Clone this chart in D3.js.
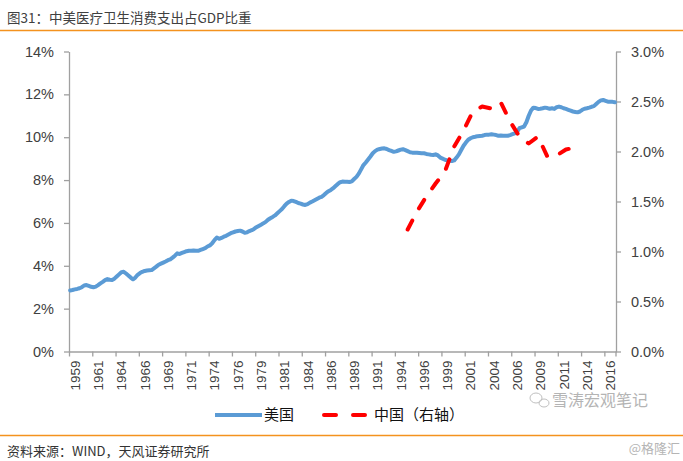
<!DOCTYPE html>
<html><head><meta charset="utf-8">
<script src="https://cdn.jsdelivr.net/npm/d3@7/dist/d3.min.js"></script>
<style>
body{margin:0;background:#fff;}
svg{display:block;font-family:"Liberation Sans",Arial,"Noto Sans CJK SC",sans-serif;}
</style></head><body>
<svg id="c" width="683" height="461"></svg>
<script>
// ---- data ----
const startYear = 1959;
const quarterCount = 235; // 1959Q1 .. 2017Q3
const xTickLabels = ["1959","1961","1964","1966","1969","1971","1974","1976","1979","1981","1984","1986","1989","1991","1994","1996","1999","2001","2004","2006","2009","2011","2014","2016"];
const leftTicks = [0,2,4,6,8,10,12,14];
const rightTicks = [0,0.5,1.0,1.5,2.0,2.5,3.0];
// US health consumption / GDP (%), quarterly
const usValues = [
 2.85,2.87,2.90,2.92, 2.95,3.00,3.08,3.10, 3.06,3.02,3.00,3.03, 3.10,3.18,3.25,3.33,
 3.38,3.35,3.34,3.40, 3.50,3.60,3.70,3.72, 3.64,3.55,3.45,3.37, 3.45,3.58,3.66,3.72,
 3.76,3.78,3.79,3.80, 3.88,3.96,4.05,4.10, 4.15,4.20,4.26,4.30, 4.38,4.47,4.58,4.55,
 4.60,4.64,4.68,4.70, 4.70,4.71,4.70,4.70, 4.74,4.78,4.82,4.90, 4.95,5.05,5.20,5.32,
 5.26,5.30,5.36,5.40, 5.46,5.52,5.56,5.60, 5.62,5.64,5.60,5.54, 5.56,5.62,5.66,5.72,
 5.80,5.86,5.92,5.98, 6.05,6.15,6.22,6.28, 6.35,6.45,6.55,6.65, 6.78,6.90,6.98,7.04,
 7.02,6.98,6.93,6.90, 6.86,6.84,6.88,6.95, 7.00,7.06,7.12,7.18, 7.22,7.30,7.40,7.48,
 7.54,7.62,7.72,7.82, 7.90,7.93,7.92,7.92, 7.91,7.94,8.05,8.15, 8.30,8.50,8.70,8.82,
 8.96,9.10,9.25,9.35, 9.42,9.45,9.47,9.48, 9.45,9.40,9.36,9.32, 9.34,9.38,9.42,9.44,
 9.40,9.35,9.30,9.28, 9.28,9.27,9.26,9.25, 9.25,9.22,9.20,9.18, 9.17,9.20,9.15,9.05,
 9.00,8.95,8.92,8.90, 8.89,8.92,9.05,9.20, 9.40,9.60,9.75,9.88, 9.95,10.00,10.02,10.05,
 10.06,10.07,10.10,10.12, 10.12,10.14,10.12,10.10, 10.07,10.08,10.07,10.07, 10.07,10.10,10.14,10.18,
 10.25,10.42,10.46,10.50, 10.70,11.00,11.25,11.38, 11.36,11.32,11.33,11.35, 11.38,11.36,11.33,11.35,
 11.32,11.40,11.43,11.40, 11.35,11.32,11.28,11.24, 11.20,11.18,11.16,11.20, 11.28,11.33,11.35,11.38,
 11.42,11.45,11.55,11.65, 11.72,11.74,11.70,11.66, 11.66,11.65,11.63
];
// China (right axis, %), annual
const chinaYears = [1995,1996,1997,1998,1999,2000,2001,2002,2003,2004,2005,2006,2007,2008,2009,2010,2011,2012,2013];
const chinaValues = [1.22,1.40,1.55,1.68,1.80,2.05,2.21,2.40,2.45,2.43,2.49,2.30,2.15,2.08,2.15,1.95,1.96,2.02,2.04];

const titleText = "图31：中美医疗卫生消费支出占GDP比重";
const sourceText = "资料来源：WIND，天风证券研究所";
const seriesNames = ["美国","中国（右轴）"];

// ---- drawing ----
const svg = d3.select("#c");
const L = 69, R = 616, T = 51.5, B = 351.5;
const xi = d3.scaleLinear().domain([0, quarterCount]).range([L, R]);
const yL = d3.scaleLinear().domain([0,14]).range([B,T]);
const yR = d3.scaleLinear().domain([0,3]).range([B,T]);
const axisColor = "#a0a0a0", textColor = "#404040";
const cjk = "'Noto Sans CJK SC',sans-serif";

// title & rules
svg.append("text").attr("x",7).attr("y",23).attr("font-size",13.5).attr("fill","#404040")
  .attr("font-family",cjk).text(titleText);
svg.append("line").attr("x1",0).attr("x2",683).attr("y1",30.5).attr("y2",30.5).attr("stroke","#f4921e").attr("stroke-width",1.5);
svg.append("line").attr("x1",0).attr("x2",683).attr("y1",435.5).attr("y2",435.5).attr("stroke","#f4921e").attr("stroke-width",1.5);
svg.append("text").attr("x",7).attr("y",456).attr("font-size",13).attr("fill","#333")
  .attr("font-family",cjk).text(sourceText);
svg.append("text").attr("x",680).attr("y",453).attr("text-anchor","end").attr("font-size",13).attr("fill","#b5b5b5")
  .attr("font-family",cjk).text("@格隆汇");
// faint watermark
svg.append("text").attr("x",552).attr("y",406).attr("font-size",16).attr("fill","#b4b4b4")
  .attr("font-family",cjk).text("雪涛宏观笔记");
const wm = svg.append("g").attr("fill","none").attr("stroke","#c0c0c0").attr("stroke-width",1);
wm.append("ellipse").attr("cx",536).attr("cy",398).attr("rx",6).attr("ry",5);
wm.append("ellipse").attr("cx",544).attr("cy",403).attr("rx",5).attr("ry",4);

// axes
function styleAxis(g){
  g.attr("font-family","'Liberation Sans',Arial,sans-serif");
  g.selectAll(".domain").attr("stroke",axisColor).attr("stroke-width",1.3);
  g.selectAll(".tick line").attr("stroke",axisColor).attr("stroke-width",1.3);
  g.selectAll(".tick text").attr("fill",textColor).attr("font-size",14.5);
}
const gl = svg.append("g").attr("transform",`translate(${L},0)`)
  .call(d3.axisLeft(yL).tickValues(leftTicks).tickFormat(d=>d+"%").tickSize(5).tickSizeOuter(0).tickPadding(10));
styleAxis(gl);
const gr = svg.append("g").attr("transform",`translate(${R},0)`)
  .call(d3.axisRight(yR).tickValues(rightTicks).tickFormat(d=>d.toFixed(1)+"%").tickSize(5).tickSizeOuter(0).tickPadding(10));
styleAxis(gr);
const gb = svg.append("g").attr("transform",`translate(0,${B})`)
  .call(d3.axisBottom(xi).tickValues(xTickLabels.map((d,i)=>i*10)).tickFormat((d,i)=>xTickLabels[i]).tickSize(5).tickSizeOuter(0));
styleAxis(gb);
gb.selectAll(".tick text").attr("font-size",13.5)
  .attr("transform","rotate(-90)").attr("text-anchor","end")
  .attr("x",-9).attr("y",5.5).attr("dy","0.35em");
gb.append("line").attr("x1",xi(quarterCount)).attr("x2",xi(quarterCount)).attr("y1",0).attr("y2",5).attr("stroke",axisColor).attr("stroke-width",1.3);

// US line
const usLine = d3.line().x((d,i)=>xi(i+0.5)).y(d=>yL(d)).curve(d3.curveLinear);
svg.append("path").datum(usValues).attr("d",usLine).attr("fill","none")
  .attr("stroke","#5b9bd5").attr("stroke-width",4).attr("stroke-linejoin","round").attr("stroke-linecap","round");

// China line
const cnLine = d3.line().x((d,i)=>xi((chinaYears[i]-startYear)*4+1+0.5)).y(d=>yR(d));
svg.append("path").datum(chinaValues).attr("d",cnLine).attr("fill","none")
  .attr("stroke","#ff0000").attr("stroke-width",4).attr("stroke-dasharray","10,14").attr("stroke-linejoin","round").attr("stroke-linecap","round");

// legend
const lg = svg.append("g").attr("transform","translate(0,415)");
lg.append("line").attr("x1",215).attr("x2",262).attr("y1",0).attr("y2",0).attr("stroke","#5b9bd5").attr("stroke-width",4);
lg.append("text").attr("x",264).attr("y",0).attr("dy","0.36em").attr("font-size",15).attr("fill","#111")
  .attr("font-family",cjk).text(seriesNames[0]);
lg.append("line").attr("x1",324).attr("x2",365).attr("y1",0).attr("y2",0).attr("stroke","#ff0000").attr("stroke-width",4)
  .attr("stroke-dasharray","12,17").attr("stroke-linecap","round");
lg.append("text").attr("x",374).attr("y",0).attr("dy","0.36em").attr("font-size",15).attr("fill","#111")
  .attr("font-family",cjk).text(seriesNames[1]);
</script>
</body></html>
